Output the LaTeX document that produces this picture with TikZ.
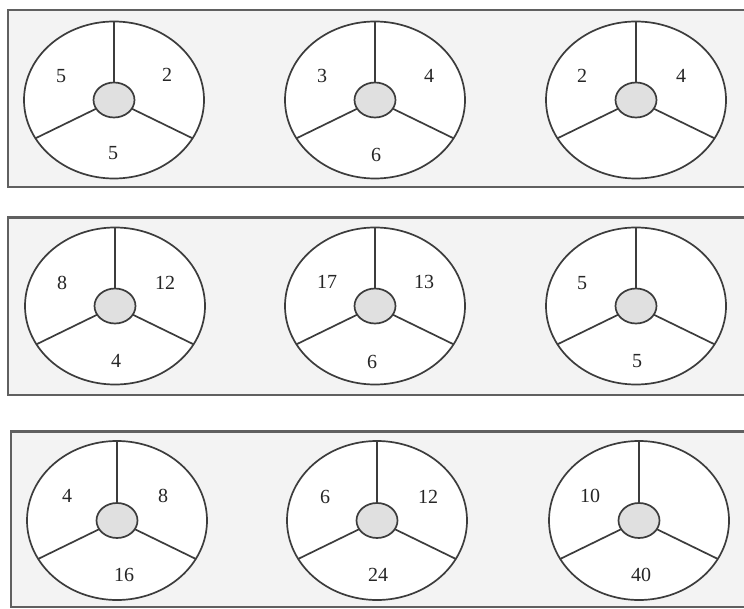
\documentclass[tikz,border=0pt]{standalone}
\usepackage{fontspec}
\setmainfont{Liberation Serif}
\usetikzlibrary{shapes.geometric}
\definecolor{panelfill}{HTML}{F3F3F3}
\definecolor{panelline}{HTML}{606060}
\definecolor{wheelline}{HTML}{3C3C3C}
\definecolor{hubfill}{HTML}{E0E0E0}
\definecolor{numcol}{HTML}{262626}
\tikzset{
  panel/.style={fill=panelfill,draw=panelline,line width=2.2pt},
  outer/.style={ellipse,draw=wheelline,fill=white,line width=1.7pt,inner sep=0pt,outer sep=0pt,minimum width=180pt,minimum height=157pt},
  hub/.style={ellipse,draw=wheelline,fill=hubfill,line width=1.7pt,inner sep=0pt,outer sep=0pt,minimum width=41pt,minimum height=35pt},
  spoke/.style={draw=wheelline,line width=1.7pt},
  num/.style={text=numcol,inner sep=0pt,font=\fontsize{20}{23}\selectfont}
}
\newcommand\mywheel[3]{%
  \node[outer] (#1o) at (#2,#3) {};
  \node[hub] (#1h) at (#2,#3) {};
  \draw[spoke] (#1h.90) -- (#1o.90);
  \draw[spoke] (#1h.206) -- (#1o.206);
  \draw[spoke] (#1h.334) -- (#1o.334);
}
\begin{document}
\begin{tikzpicture}[x=1pt,y=-1pt]
\useasboundingbox (0,0) rectangle (744,609);
\fill[white] (0,0) rectangle (744,609);
% panels
\path[panel] (8,10) rectangle (760,187);
\path[panel] (8,217.5) rectangle (760,395);
\path[panel] (11,431.5) rectangle (760,607);
% row 1
\mywheel{a}{114}{100}
\mywheel{b}{375}{100}
\mywheel{c}{636}{100}
\node[num] (a1) at (61,76) {5};
\node[num] (a2) at (167,75) {2};
\node[num] (a3) at (113,153) {5};
\node[num] (b1) at (322,76) {3};
\node[num] (b2) at (429,76) {4};
\node[num] (b3) at (376,155) {6};
\node[num] (c1) at (582,76) {2};
\node[num] (c2) at (681,76) {4};
% row 2
\mywheel{d}{115}{306}
\mywheel{e}{375}{306}
\mywheel{f}{636}{306}
\node[num] (d1) at (62,283) {8};
\node[num] (d2) at (165,283) {12};
\node[num] (d3) at (116,361) {4};
\node[num] (e1) at (327,282) {17};
\node[num] (e2) at (424,282) {13};
\node[num] (e3) at (372,362) {6};
\node[num] (f1) at (582,283) {5};
\node[num] (f3) at (637,361) {5};
% row 3
\begin{scope}[outer/.append style={minimum height=159pt}]
\mywheel{g}{117}{520.5}
\mywheel{h}{377}{520.5}
\mywheel{i}{639}{520.5}
\end{scope}
\node[num] (g1) at (67,496) {4};
\node[num] (g2) at (163,496) {8};
\node[num] (g3) at (124,575) {16};
\node[num] (h1) at (325,497) {6};
\node[num] (h2) at (428,497) {12};
\node[num] (h3) at (378,575) {24};
\node[num] (i1) at (590,496) {10};
\node[num] (i3) at (641,575) {40};
\end{tikzpicture}
\end{document}
